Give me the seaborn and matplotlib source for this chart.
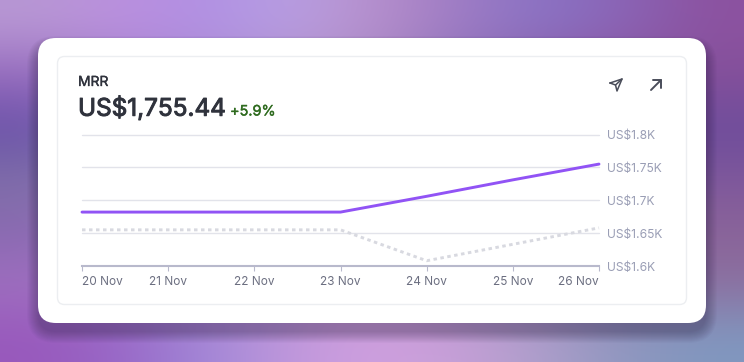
import numpy as np
import pandas as pd
import seaborn as sns
import matplotlib.pyplot as plt
import matplotlib.patheffects as pe
from matplotlib.colors import to_rgb
from matplotlib.patches import FancyBboxPatch

# --- Data ---
days = ["20 Nov", "21 Nov", "22 Nov", "23 Nov", "24 Nov", "25 Nov", "26 Nov"]
current = [1.682, 1.682, 1.682, 1.682, 1.706, 1.731, 1.755]
previous = [1.655, 1.655, 1.655, 1.655, 1.608, 1.633, 1.658]
y_ticks = [1.6, 1.65, 1.7, 1.75, 1.8]
y_labels = ["US$1.6K", "US$1.65K", "US$1.7K", "US$1.75K", "US$1.8K"]

# blurred wallpaper colours, coarse grid
bg_colors = [
    ["#b898d4", "#bc8fe0", "#b090e4", "#b8a0e4", "#b890cc", "#a07cc4", "#8a74c6", "#8a66b8", "#8c52a0"],
    ["#9468bc", "#a080c8", "#a888d0", "#b090c8", "#a888c0", "#8870b8", "#8a5aa0", "#8a509a", "#84509a"],
    ["#6850a8", "#8070b8", "#9080c0", "#9080c0", "#8878b8", "#7868b0", "#7050a0", "#6c4c9c", "#6c4c9c"],
    ["#8070a8", "#9078b8", "#9880c0", "#a080c0", "#9878c0", "#8870b8", "#7860a8", "#80589c", "#80589c"],
    ["#8868b0", "#a078c8", "#b080c8", "#b888c8", "#b088c8", "#9880c0", "#8878b8", "#8a6499", "#8a6499"],
    ["#a070c0", "#a878c8", "#b088d0", "#c090d0", "#c898d0", "#b088c8", "#9880b8", "#8c70a0", "#8c70a0"],
    ["#9858bc", "#9868c8", "#a088d8", "#c098dc", "#d0a0e0", "#c8a0d8", "#b0a0cc", "#9098c0", "#8098c0"],
]

W, H = 744, 362
DARK = "#2f323c"

sns.set_theme(style="white")
plt.rcParams["font.family"] = ["Inter", "DejaVu Sans"]

fig = plt.figure(figsize=(W / 100, H / 100), dpi=100)

# --- Background and cards, in pixel coordinates ---
bg = fig.add_axes([0, 0, 1, 1], zorder=0)
bg.imshow([[to_rgb(c) for c in row] for row in bg_colors], extent=(0, W, H, 0),
          aspect="auto", interpolation="bicubic")
bg.set_xlim(0, W)
bg.set_ylim(H, 0)
bg.axis("off")

for i in range(12):
    bg.add_patch(FancyBboxPatch((38 - i * 1.0, 38 + 9 - i * 1.0), 668 + i * 2.0, 285 + i * 2.0,
                                boxstyle=f"round,pad=0,rounding_size={18 + i}",
                                fc="#2a2040", ec="none", alpha=0.03))
bg.add_patch(FancyBboxPatch((38, 38), 668, 285, boxstyle="round,pad=0,rounding_size=18",
                            fc="white", ec="none"))
bg.add_patch(FancyBboxPatch((57.5, 56.5), 629, 248, boxstyle="round,pad=0,rounding_size=7",
                            fc="white", ec="#eceef1", lw=1))

bg.text(78, 82, "MRR", fontsize=10, color=DARK, va="center",
        path_effects=[pe.withStroke(linewidth=0.25, foreground=DARK)])
bg.text(78, 108, "US$1,755.44", fontsize=17.5, color=DARK, va="center",
        path_effects=[pe.withStroke(linewidth=0.7, foreground=DARK)])
bg.text(230, 111.5, "+5.9%", fontsize=10.4, color="#2f6b1f", va="center",
        path_effects=[pe.withStroke(linewidth=0.3, foreground="#2f6b1f")])

# send icon
bg.plot([610, 622, 617, 615.5, 610], [83, 79, 91, 85, 83], color="#4a4d5a", lw=1.1, solid_joinstyle="round")
bg.plot([615.5, 622], [85, 79], color="#4a4d5a", lw=1.1)
# open-in-new arrow
bg.plot([651, 661], [90, 80], color="#4a4d5a", lw=1.4)
bg.plot([653, 661, 661], [80, 80, 88], color="#4a4d5a", lw=1.4)

# --- Chart axes: x 82..599 px, y 134.5..266 px ---
ax = fig.add_axes([82 / W, 1 - 266 / H, (599 - 82) / W, (266 - 134.5) / H], zorder=1)
ax.patch.set_alpha(0)

df = pd.DataFrame({"pos": range(len(days)), "current": current, "previous": previous})

for t in y_ticks[1:]:
    ax.axhline(t, color="#e2e3ea", lw=1.0, zorder=1, clip_on=False)

sns.lineplot(data=df, x="pos", y="previous", ax=ax, color="#d8d9e0", lw=2.1,
             linestyle=(0, (1.2, 1.2)), zorder=2, clip_on=False)
sns.lineplot(data=df, x="pos", y="current", ax=ax, color="#9153f5", lw=2.1, zorder=3, clip_on=False)

ax.set_xlim(0, len(days) - 1)
ax.set_ylim(1.6, 1.8)
ax.set_xlabel("")
ax.set_ylabel("")
ax.yaxis.tick_right()
ax.set_yticks(y_ticks)
ax.set_yticklabels(y_labels, fontsize=8.7, color="#9a9eb5")
ax.tick_params(axis="y", length=0, pad=6)
ax.set_xticks(range(len(days)))
ax.set_xticklabels(days, fontsize=8.5, color="#6b6e80")
ax.tick_params(axis="x", bottom=True, length=3.5, width=0.8, color="#b8b9cc", pad=4)
ax.get_xticklabels()[0].set_ha("left")
ax.get_xticklabels()[-1].set_ha("right")

for side in ["top", "left", "right"]:
    ax.spines[side].set_visible(False)
ax.spines["bottom"].set_color("#b8b9cc")
ax.spines["bottom"].set_linewidth(1.5)

fig.savefig("out.png", dpi=100)
